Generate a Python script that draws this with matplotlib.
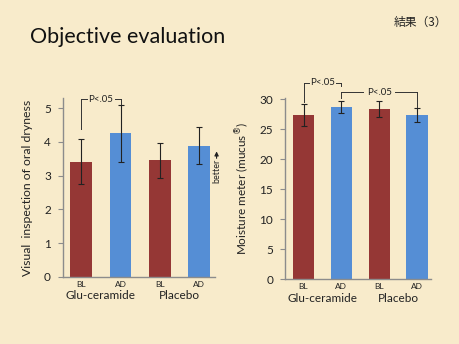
import matplotlib
matplotlib.use("Agg")
import matplotlib.pyplot as plt

plt.rcParams['font.family'] = ['Lato', 'Noto Sans CJK JP', 'DejaVu Sans']

# Data
tick_labels = ["BL", "AD", "BL", "AD"]
groups = ["Glu-ceramide", "Placebo"]
dryness = [3.41, 4.25, 3.45, 3.89]
dryness_err = [0.67, 0.85, 0.52, 0.56]
moisture = [27.4, 28.7, 28.3, 27.4]
moisture_err = [1.85, 1.05, 1.3, 1.15]

bar_colors = ["#953735", "#558ed5", "#953735", "#558ed5"]
bg = "#f8ebcb"
axis_col = "#8c8c8c"

W, H = 459, 344
fig = plt.figure(figsize=(W / 100, H / 100), dpi=100)
fig.patch.set_facecolor(bg)

fig.text(30 / W, 1 - 37 / H, "Objective evaluation", fontsize=15.5,
         ha="left", va="center", color="#111111")
fig.text(447 / W, 1 - 22 / H, "結果（3）", fontsize=8.5, ha="right",
         va="center", color="#222222",
         family=['Noto Sans CJK JP', 'DejaVu Sans'])

x = list(range(len(tick_labels)))


def style_axes(ax):
    ax.set_facecolor("none")
    for s in ("top", "right"):
        ax.spines[s].set_visible(False)
    for s in ("left", "bottom"):
        ax.spines[s].set_color(axis_col)
        ax.spines[s].set_linewidth(1.0)
    ax.tick_params(axis="y", direction="out", length=3.5, width=0.8,
                   color=axis_col, labelsize=8.5, pad=5, labelcolor="#222222")
    ax.tick_params(axis="x", length=0, labelsize=6, pad=3,
                   labelcolor="#222222")
    ax.set_xticks(x)
    ax.set_xticklabels(tick_labels)


def group_labels(ax):
    for i, g in enumerate(groups):
        ax.text(2 * i + 0.5, -0.105, g, transform=ax.get_xaxis_transform(),
                ha="center", va="center", fontsize=8.5, color="#222222")


def bracket(ax, x0, x1, ytop, y0, y1, text, gap):
    mid = (x0 + x1) / 2
    kw = dict(color="#333333", lw=0.7, clip_on=False)
    ax.plot([x0, x0], [y0, ytop], **kw)
    ax.plot([x1, x1], [y1, ytop], **kw)
    ax.plot([x0, mid - gap], [ytop, ytop], **kw)
    ax.plot([mid + gap, x1], [ytop, ytop], **kw)
    ax.text(mid, ytop, text, ha="center", va="center", fontsize=7,
            color="#222222")


# Left panel: visual inspection of oral dryness
ax1 = fig.add_axes([62.7 / W, 1 - 276.7 / H, 152.3 / W, 178.6 / H])
style_axes(ax1)
ax1.bar(x, dryness, width=0.56, color=bar_colors, zorder=2)
ax1.errorbar(x, dryness, yerr=dryness_err, fmt="none", ecolor="#222222",
             elinewidth=0.8, capsize=2, capthick=0.8, zorder=3)
ax1.set_xlim(-0.475, 3.41)
ax1.set_ylim(0, 5.3)
ax1.set_yticks(range(0, 6))
ax1.set_ylabel("Visual  inspection of oral dryness", fontsize=8.8,
               labelpad=8, color="#222222")
group_labels(ax1)
bracket(ax1, 0, 1, 5.26, 4.37, 5.09, "P<.05", 0.36)
# "better" arrow
ax1.text(3.45, 3.15, "better", rotation=90, ha="center", va="center",
         fontsize=6.5, color="#222222", clip_on=False)
ax1.annotate("", xy=(3.45, 3.8), xytext=(3.45, 3.43),
             arrowprops=dict(arrowstyle="-|>", color="#222222", lw=0.8,
                             mutation_scale=6),
             annotation_clip=False)

# Right panel: moisture meter
ax2 = fig.add_axes([285 / W, 1 - 279 / H, 146 / W, 181.2 / H])
style_axes(ax2)
ax2.bar(x, moisture, width=0.56, color=bar_colors, zorder=2)
ax2.errorbar(x, moisture, yerr=moisture_err, fmt="none", ecolor="#222222",
             elinewidth=0.8, capsize=2, capthick=0.8, zorder=3)
ax2.set_xlim(-0.49, 3.37)
ax2.set_ylim(0, 30.2)
ax2.set_yticks(range(0, 31, 5))
ax2.set_ylabel("Moisture meter (mucus$^{\u00ae}$)", fontsize=8.5,
               labelpad=6, color="#222222")
group_labels(ax2)
bracket(ax2, 0, 1, 32.7, 29.55, 32.2, "P<.05", 0.36)
bracket(ax2, 1, 3, 31.1, 30.1, 28.7, "P<.05", 0.42)

fig.savefig("out.png", dpi=100, facecolor=bg)
